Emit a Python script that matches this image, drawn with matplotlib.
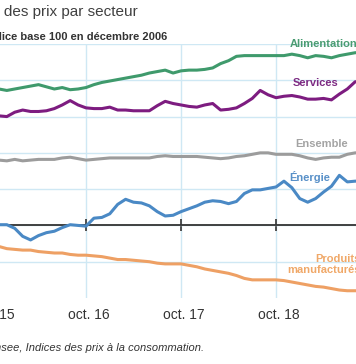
import numpy as np
import matplotlib
matplotlib.use("Agg")
from matplotlib import pyplot as plt
from matplotlib.transforms import ScaledTranslation

plt.rcParams['font.family'] = ['Liberation Sans', 'DejaVu Sans']

# mois d'oct. 2015 a sept. 2019 (indice base 100 en decembre 2006)
mois = ['oct. 15', 'nov. 15', 'déc. 15', 'janv. 16', 'févr. 16', 'mars 16', 'avr. 16', 'mai 16',
        'juin 16', 'juil. 16', 'août 16', 'sept. 16', 'oct. 16', 'nov. 16', 'déc. 16', 'janv. 17',
        'févr. 17', 'mars 17', 'avr. 17', 'mai 17', 'juin 17', 'juil. 17', 'août 17', 'sept. 17',
        'oct. 17', 'nov. 17', 'déc. 17', 'janv. 18', 'févr. 18', 'mars 18', 'avr. 18', 'mai 18',
        'juin 18', 'juil. 18', 'août 18', 'sept. 18', 'oct. 18', 'nov. 18', 'déc. 18', 'janv. 19',
        'févr. 19', 'mars 19', 'avr. 19', 'mai 19', 'juin 19', 'juil. 19', 'août 19', 'sept. 19']

alimentation = [118.7, 118.8, 118.6, 118.8, 119.0, 119.2, 119.4, 119.1, 118.8, 119.0, 118.7, 118.8,
                119.0, 119.4, 119.7, 119.9, 120.1, 120.3, 120.5, 120.7, 121.0, 121.2, 121.4, 121.0,
                121.3, 121.4, 121.4, 121.5, 121.7, 122.3, 122.7, 123.3, 123.4, 123.4, 123.4, 123.4,
                123.4, 123.4, 123.6, 123.4, 123.1, 123.4, 123.3, 123.1, 123.4, 123.6, 123.8, 123.8]

services = [115.1, 115.1, 115.0, 115.6, 115.9, 115.7, 115.7, 115.8, 116.1, 116.6, 117.2, 116.6,
            116.2, 116.1, 116.1, 116.3, 115.9, 115.9, 115.8, 115.8, 115.8, 116.5, 117.1, 116.8,
            116.6, 116.4, 116.3, 116.6, 116.8, 115.9, 116.0, 116.2, 116.8, 117.5, 118.6, 118.0,
            117.6, 117.8, 117.9, 117.7, 117.4, 117.4, 117.5, 117.3, 118.1, 118.8, 119.8, 119.8]

ensemble = [109.0, 109.0, 108.9, 109.1, 108.9, 109.0, 109.1, 109.1, 109.1, 109.3, 109.4, 109.2,
            109.0, 109.1, 109.2, 109.3, 109.3, 109.3, 109.3, 109.3, 109.3, 109.5, 109.6, 109.5,
            109.5, 109.5, 109.5, 109.4, 109.3, 109.2, 109.3, 109.5, 109.6, 109.8, 110.0, 110.0,
            109.8, 109.8, 109.8, 109.6, 109.3, 109.1, 109.3, 109.4, 109.4, 109.8, 110.0, 110.0]

energie = [100.1, 100.1, 100.1, 99.6, 98.5, 98.0, 98.6, 99.0, 99.2, 99.7, 100.1, 100.0,
           99.9, 101.0, 101.1, 101.6, 102.9, 103.6, 103.2, 103.1, 102.7, 101.9, 101.3, 101.4,
           101.9, 102.3, 102.7, 103.2, 103.4, 103.3, 103.0, 103.3, 104.4, 104.9, 104.9, 105.1,
           105.3, 106.1, 105.2, 103.7, 103.2, 103.7, 104.6, 105.4, 106.9, 106.0, 106.1, 106.1]

manufactures = [97.3, 97.1, 96.8, 96.7, 96.6, 96.6, 96.4, 96.3, 96.2, 96.2, 96.0, 95.9,
                95.9, 95.8, 95.7, 95.5, 95.3, 95.3, 95.2, 95.1, 95.0, 94.8, 94.7, 94.7,
                94.7, 94.5, 94.3, 94.0, 93.8, 93.6, 93.4, 93.1, 92.7, 92.5, 92.5, 92.5,
                92.5, 92.4, 92.2, 92.0, 91.8, 91.6, 91.5, 91.3, 91.1, 91.0, 91.0, 91.0]

x = np.arange(len(mois))
ticks = [i for i, m in enumerate(mois) if m.startswith('oct.')]

W, H = 356, 364
x0, x1 = -0.5, 46.1          # vue en mois
pxm = W / (x1 - 1.137)       # le bord gauche de l'image tombe a 1.137 mois
fig = plt.figure(figsize=(W / 100, H / 100), dpi=100)
# l'axe deborde un peu a gauche pour garder le libelle "oct. 15" coupe
ax = fig.add_axes([-(1.137 - x0) * pxm / W, 66 / H, (x1 - x0) * pxm / W, 254 / H])

grille = '#cfe8f4'
ax.set_yticks([95, 100, 105, 110, 115, 120, 125])
ax.set_xticks(ticks)
ax.set_xticklabels([mois[i] for i in ticks])
ax.set_xlim(x0, x1)
ax.set_ylim(90, 125)
ax.grid(True, color=grille, lw=1)
ax.set_axisbelow(True)
for s in ['left', 'right', 'top']:
    ax.spines[s].set_visible(False)
ax.spines['bottom'].set_position(('data', 100))
ax.spines['bottom'].set_color('#333333')
ax.spines['bottom'].set_linewidth(1.3)
ax.spines['bottom'].set_zorder(1.5)
ax.tick_params(axis='y', left=False, labelleft=False)
ax.tick_params(axis='x', direction='inout', length=8.6, width=1.2, color='#333333',
               pad=55, labelsize=10, labelcolor='#333333')
for lab in ax.get_xticklabels():
    lab.set_transform(lab.get_transform() + ScaledTranslation(3 / 100, 0, fig.dpi_scale_trans))

lw = 2.2
ax.plot(x, alimentation, color='#3f9a6c', lw=lw, zorder=3)
ax.plot(x, services, color='#7d1c80', lw=lw, zorder=3)
ax.plot(x, ensemble, color='#9c9c9c', lw=lw, zorder=3)
ax.plot(x, energie, color='#4a89c5', lw=lw, zorder=3)
ax.plot(x, manufactures, color='#eea064', lw=lw, zorder=3)

def px(xp, yp):
    return xp / W, 1 - yp / H

fs = 8
fig.text(*px(290, 44), 'Alimentation', color='#4a9c72', fontsize=fs, fontweight='bold', va='center')
fig.text(*px(293, 83), 'Services', color='#7d2a82', fontsize=fs, fontweight='bold', va='center')
fig.text(*px(295, 144), 'Ensemble', color='#a3a3a3', fontsize=fs, fontweight='bold', va='center')
fig.text(*px(289, 177), 'Énergie', color='#5890c8', fontsize=fs, fontweight='bold', va='center')
fig.text(*px(361, 264.5), 'Produits\nmanufacturés', color='#f0a868', fontsize=fs,
         fontweight='bold', va='center', ha='right', multialignment='right', linespacing=1.15)

fig.text(*px(138, 11), 'Évolution des prix par secteur', color='#404040', fontsize=11,
         va='center', ha='right')
fig.text(*px(167, 37), 'Indice base 100 en décembre 2006', color='#333333', fontsize=8,
         fontweight='bold', va='center', ha='right')
fig.text(*px(204, 348), 'Source : Insee, Indices des prix à la consommation.', color='#333333',
         fontsize=8, style='italic', va='center', ha='right')

fig.savefig('out.png', dpi=100)
